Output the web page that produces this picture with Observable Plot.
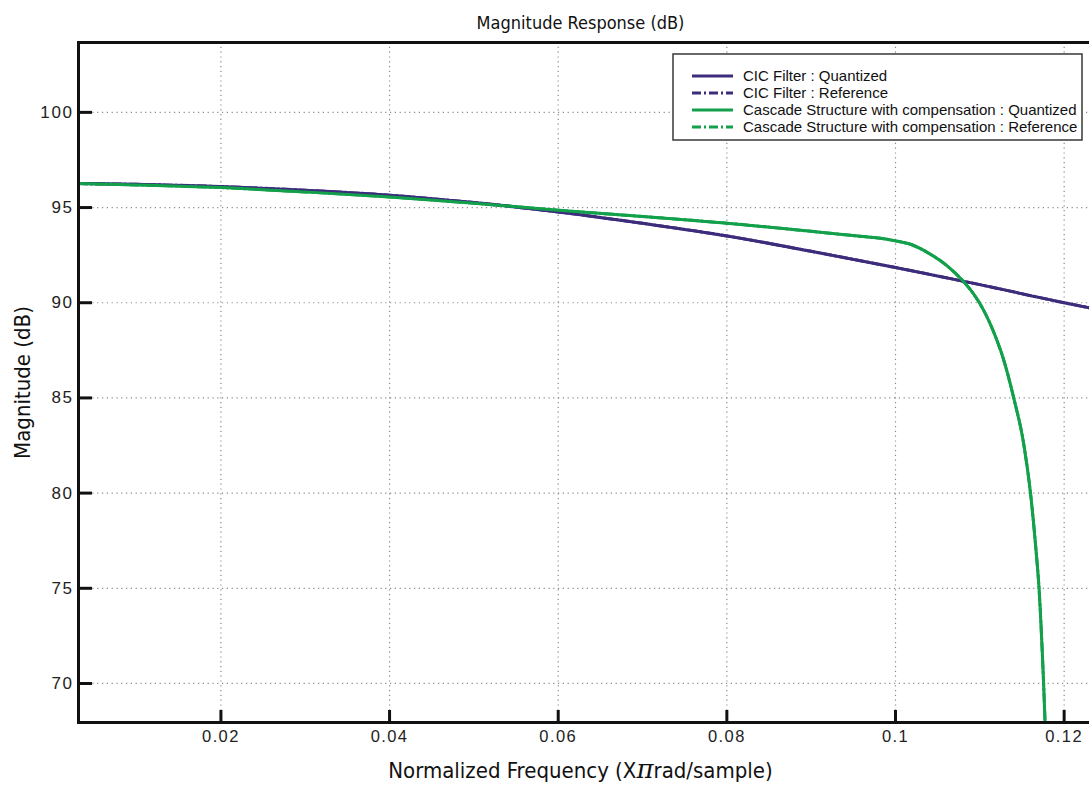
<!DOCTYPE html>
<html><head><meta charset="utf-8">
<script src="https://cdn.jsdelivr.net/npm/d3@7"></script>
<script src="https://cdn.jsdelivr.net/npm/@observablehq/plot@0.6"></script>
<style>
html,body{margin:0;padding:0;background:#fff;overflow:hidden;}
#chart svg{display:block;max-width:none !important;}
</style></head><body><div id="chart"></div>
<script>
// CIC filter magnitude (dB) vs normalized frequency
const cicFreq = [0.00311, 0.01, 0.02, 0.03, 0.04, 0.05, 0.06, 0.07, 0.08, 0.09, 0.1, 0.11, 0.12, 0.1236];
const cicMag  = [96.26, 96.22, 96.10, 95.91, 95.65, 95.26, 94.77, 94.17, 93.51, 92.70, 91.85, 90.95, 90.00, 89.68];
// Cascade structure with compensation
const cascFreq = [0.00311, 0.01, 0.02, 0.03, 0.04, 0.05, 0.06, 0.07, 0.08, 0.09, 0.0965, 0.0982, 0.09999, 0.10177, 0.10414, 0.10612, 0.1079, 0.10928, 0.11046, 0.11205, 0.11276, 0.11402, 0.11521, 0.11601, 0.1166, 0.11704, 0.11755, 0.1181];
const cascMag  = [96.26, 96.19, 96.05, 95.82, 95.56, 95.23, 94.86, 94.53, 94.18, 93.75, 93.46, 93.39, 93.25, 93.07, 92.55, 91.94, 91.19, 90.45, 89.60, 88.00, 87.10, 85.00, 82.57, 80.00, 77.32, 74.87, 70.15, 63.5];

const xTicks = [0.02, 0.04, 0.06, 0.08, 0.1, 0.12];
const xTickLabels = ["0.02", "0.04", "0.06", "0.08", "0.1", "0.12"];
const yTicks = [70, 75, 80, 85, 90, 95, 100];
const seriesNames = [
  "CIC Filter : Quantized",
  "CIC Filter : Reference",
  "Cascade Structure with compensation : Quantized",
  "Cascade Structure with compensation : Reference"
];
const seriesColors = ["#3d2c7c", "#3d2c7c", "#12a04b", "#12a04b"];
const seriesDash = [null, "9,3,2,3", null, "9,3,2,3"];

const cic = cicFreq.map((f, i) => ({f, m: cicMag[i]}));
const casc = cascFreq.map((f, i) => ({f, m: cascMag[i]}));

const gridStyle = {stroke: "#8a8a8a", strokeOpacity: 1, strokeWidth: 1.2, strokeDasharray: "1.2,3.6"};
const lineOpt = (color, dash) => ({x: "f", y: "m", stroke: color, strokeWidth: 3, curve: "monotone-x", clip: true, strokeDasharray: dash || undefined});
const condensed = "'Liberation Sans Narrow', 'DejaVu Sans Condensed', sans-serif";

const plot = Plot.plot({
  width: 1100, height: 792,
  marginLeft: 78, marginRight: 6, marginTop: 42, marginBottom: 70,
  x: {domain: [0.00311, 0.1236]},
  y: {domain: [67.95, 103.67]},
  style: {fontFamily: "'Liberation Sans', Arial, sans-serif", fontSize: "16px", color: "#222", background: "#fff"},
  marks: [
    Plot.gridX(xTicks, gridStyle),
    Plot.gridY(yTicks, gridStyle),
    Plot.line(cic, lineOpt(seriesColors[1], seriesDash[1])),
    Plot.line(casc, lineOpt(seriesColors[3], seriesDash[3])),
    Plot.line(cic, lineOpt(seriesColors[0], null)),
    Plot.line(casc, lineOpt(seriesColors[2], null)),
    Plot.axisX({ticks: xTicks, tickFormat: d => xTickLabels[xTicks.indexOf(d)], tickSize: 0, tickPadding: 8, label: null}),
    Plot.axisX({ticks: xTicks, tickSize: 12, dy: -12, text: null, strokeWidth: 3, stroke: "#111", label: null}),
    Plot.axisY({ticks: yTicks, tickSize: 0, tickPadding: 5, label: null}),
    Plot.axisY({ticks: yTicks, tickSize: 14, dx: 14, text: null, strokeWidth: 3, stroke: "#111", label: null}),
    Plot.frame({stroke: "#111", strokeWidth: 3}),
    Plot.text(["Magnitude Response (dB)"], {frameAnchor: "top", dy: -26, dx: -6, fontSize: 18, fontFamily: condensed, fill: "#111"}),
    Plot.text(["Normalized Frequency (Xπrad/sample)"], {frameAnchor: "bottom", dy: 55, dx: -6, fontSize: 22, fontFamily: condensed, fill: "#111"}),
    Plot.text(["Magnitude (dB)"], {frameAnchor: "left", dx: -56, rotate: -90, textAnchor: "middle", fontSize: 22, fontFamily: condensed, fill: "#111"})
  ]
});
document.getElementById("chart").appendChild(plot);
const svg = d3.select(plot);
svg.style("max-width", "none");

// tick label sizes (reference labels are wide)
svg.selectAll("text").each(function() {
  const s = this.textContent;
  if (xTickLabels.includes(s)) {
    d3.select(this).style("font-size", "16.5px").style("letter-spacing", "1.4px").style("fill", "#222");
  } else if (yTicks.map(String).includes(s)) {
    d3.select(this).style("font-size", "17px").style("letter-spacing", "1.6px").style("fill", "#222");
  }
});

// stylize the pi symbol in the x label
svg.selectAll("text").each(function() {
  const t = d3.select(this);
  const s = t.text();
  if (s.includes("π") && s.length > 5) {
    const [a, b] = s.split("π");
    t.text(null);
    t.append("tspan").text(a);
    t.append("tspan").text("π").attr("font-family", "'DejaVu Serif', serif").attr("font-style", "italic").attr("font-size", 26);
    t.append("tspan").text(b);
  }
});

// legend
const lx = 673, ly = 54, lw = 409, lh = 86;
const lg = svg.append("g").attr("font-family", "'Liberation Sans', Arial, sans-serif").attr("fill", "#111").attr("text-anchor", "start");
lg.append("rect").attr("x", lx).attr("y", ly).attr("width", lw).attr("height", lh)
  .attr("fill", "#fff").attr("stroke", "#444").attr("stroke-width", 1.6);
seriesNames.forEach((name, i) => {
  const y = ly + 22 + i * 17;
  lg.append("line").attr("x1", lx + 19).attr("x2", lx + 60).attr("y1", y).attr("y2", y)
    .attr("stroke", seriesColors[i]).attr("stroke-width", 3)
    .attr("stroke-dasharray", seriesDash[i] || null);
  lg.append("text").attr("x", lx + 70).attr("y", y).attr("dy", "0.35em").attr("text-anchor", "start")
    .style("font-size", "15px").text(name);
});
</script></body></html>
